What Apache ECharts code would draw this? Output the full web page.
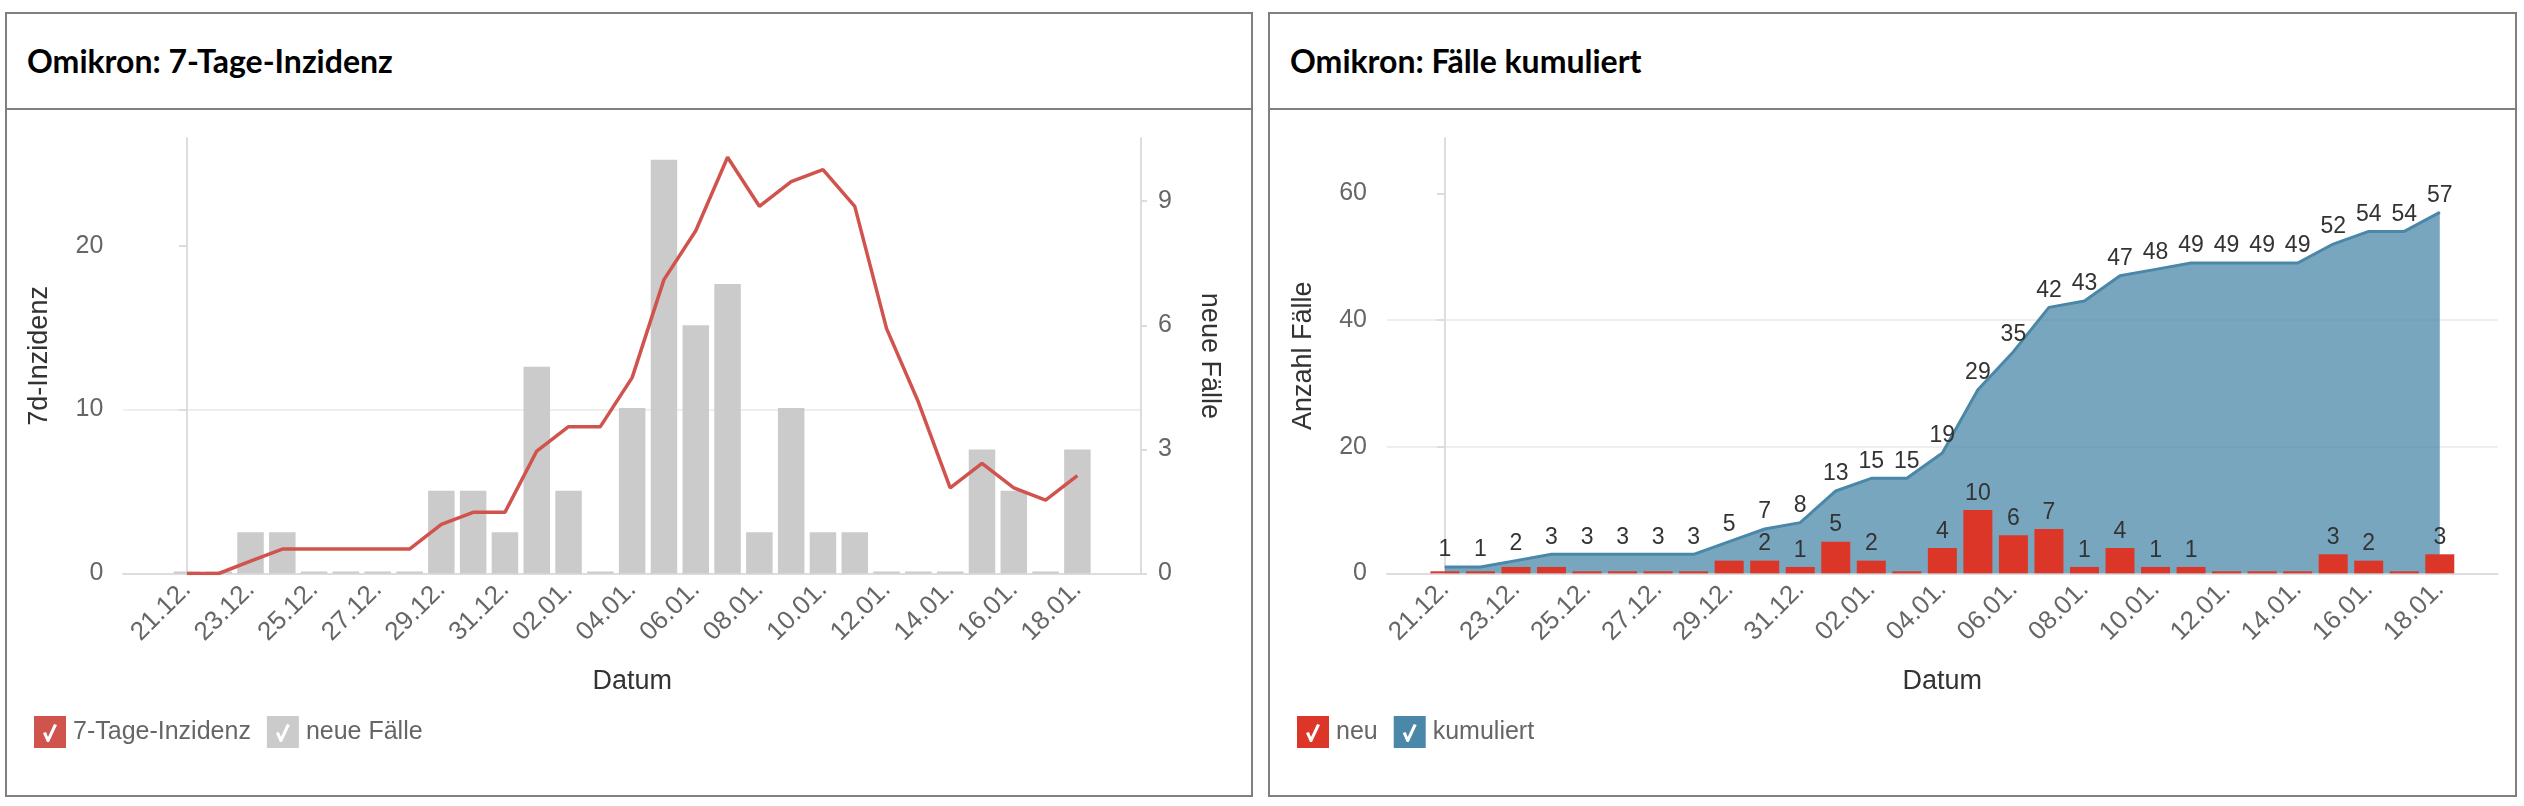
<!DOCTYPE html>
<html>
<head>
<meta charset="utf-8">
<title>Omikron</title>
<script src="https://cdn.jsdelivr.net/npm/echarts@6/dist/echarts.min.js"></script>
<style>
    html, body { margin: 0; padding: 0; background: #fff; }
    body { width: 2524px; height: 806px; position: relative; overflow: hidden; }
    .panel {
        position: absolute;
        top: 12px;
        height: 785px;
        box-sizing: border-box;
        border: 2px solid #808080;
    }
    .panel .head {
        height: 94px;
        line-height: 94px;
        padding-left: 20px;
        border-bottom: 2px solid #808080;
        font-family: Lato, sans-serif;
        font-weight: bold;
        font-size: 32px;
        color: #000;
    }
    .panel .chart { width: 100%; height: 685px; }
    #p1 { left: 5px; width: 1248px; }
    #p2 { left: 1268px; width: 1249px; }
</style>
</head>
<body>
<div class="panel" id="p1">
    <div class="head">Omikron: 7-Tage-Inzidenz</div>
    <div class="chart" id="chart_inzidenz"></div>
</div>
<div class="panel" id="p2">
    <div class="head">Omikron: Fälle kumuliert</div>
    <div class="chart" id="chart_kumuliert"></div>
</div>
<script>
// Tage 21.12. bis 18.01.
const dates = [
    '21.12.', '22.12.', '23.12.', '24.12.', '25.12.', '26.12.', '27.12.', '28.12.',
    '29.12.', '30.12.', '31.12.', '01.01.', '02.01.', '03.01.', '04.01.', '05.01.',
    '06.01.', '07.01.', '08.01.', '09.01.', '10.01.', '11.01.', '12.01.', '13.01.',
    '14.01.', '15.01.', '16.01.', '17.01.', '18.01.'
];
const neueFaelle = [0, 0, 1, 1, 0, 0, 0, 0, 2, 2, 1, 5, 2, 0, 4, 10, 6, 7, 1, 4, 1, 1, 0, 0, 0, 3, 2, 0, 3];
const inzidenz = [
    0, 0, 0.75, 1.49, 1.49, 1.49, 1.49, 1.49, 2.99, 3.73, 3.73, 7.47, 8.96, 8.96, 11.95,
    17.93, 20.91, 25.39, 22.4, 23.9, 24.64, 22.4, 14.94, 10.46, 5.23, 6.72, 5.23, 4.48, 5.97
];
const kumuliert = [1, 1, 2, 3, 3, 3, 3, 3, 5, 7, 8, 13, 15, 15, 19, 29, 35, 42, 43, 47, 48, 49, 49, 49, 49, 52, 54, 54, 57];
const labelDays = dates.map((d, i) => i).filter(i => i % 2 === 0);
const inzTicks = [0, 10, 20];
const faelleTicks = [0, 3, 6, 9];
const kumTicks = [0, 20, 40, 60];

const textFont = '"Liberation Sans", Arial, sans-serif';
const axisGrey = '#dddddd';
const gridGrey = '#eeeeee';

// kleines Kästchen mit Haken als Legenden-Symbol
const checkIcon = 'path://M0 0H32V32H0Z M9 17L13 26L15 26L23 9L20 8L14 21L12 16Z';

function dateAxis(min, max) {
    return {
        type: 'value',
        min: min,
        max: max,
        name: 'Datum',
        nameLocation: 'middle',
        nameGap: 95,
        nameTextStyle: { fontFamily: textFont, fontSize: 27, color: '#333' },
        axisLine: { show: true, lineStyle: { color: axisGrey, width: 2 } },
        axisTick: { show: false },
        splitLine: { show: false },
        axisLabel: {
            customValues: labelDays,
            formatter: v => dates[v] || '',
            rotate: 45,
            margin: 12,
            fontFamily: textFont,
            fontSize: 26,
            color: '#666'
        }
    };
}

function valueAxis(opt) {
    return Object.assign({
        type: 'value',
        min: 0,
        nameLocation: 'middle',
        nameTextStyle: { fontFamily: textFont, fontSize: 27, color: '#333' },
        axisLine: { show: true, lineStyle: { color: axisGrey, width: 2 } },
        axisTick: { show: true, length: 8, lineStyle: { color: axisGrey, width: 2 } },
        axisLabel: { margin: 20, fontFamily: textFont, fontSize: 25, color: '#666', showMaxLabel: false },
        splitLine: { show: true, showMaxLine: false, lineStyle: { color: gridGrey, width: 2 } }
    }, opt);
}

function legend(items) {
    return {
        left: 22,
        top: 601,
        itemWidth: 32,
        itemHeight: 32,
        itemGap: 16,
        selectedMode: false,
        textStyle: { fontFamily: textFont, fontSize: 25, color: '#666', padding: [0, 0, 0, 2] },
        data: items.map(it => ({
            name: it.name,
            icon: checkIcon,
            itemStyle: { color: it.color, borderWidth: 0 }
        }))
    };
}

(function inzidenzChart() {
    const chart = echarts.init(document.getElementById('chart_inzidenz'));
    chart.setOption({
        animation: false,
        grid: { left: 116.3, right: 110, top: 28.3, bottom: 221.5 },
        legend: legend([
            { name: '7-Tage-Inzidenz', color: '#d0534e' },
            { name: 'neue Fälle', color: '#cbcbcb' }
        ]),
        xAxis: dateAxis(-2, 30),
        yAxis: [
            valueAxis({
                max: 26.55,
                interval: 10,
                name: '7d-Inzidenz',
                nameGap: 70,
                axisTick: { show: true, length: 8, customValues: inzTicks, lineStyle: { color: axisGrey, width: 2 } },
                axisLabel: { customValues: inzTicks, margin: 20, fontFamily: textFont, fontSize: 25, color: '#666' }
            }),
            valueAxis({
                position: 'right',
                max: 10.52,
                interval: 3,
                name: 'neue Fälle',
                nameGap: 55,
                nameRotate: -90,
                splitLine: { show: false },
                axisTick: { show: true, length: 6, customValues: faelleTicks, lineStyle: { color: axisGrey, width: 2 } },
                axisLabel: { customValues: faelleTicks, margin: 17, fontFamily: textFont, fontSize: 25, color: '#666' }
            })
        ],
        series: [
            {
                name: 'neue Fälle',
                type: 'bar',
                yAxisIndex: 1,
                barWidth: 26.5,
                barMinHeight: 2,
                color: '#cbcbcb',
                z: 2,
                data: neueFaelle.map((v, i) => [i, v])
            },
            {
                name: '7-Tage-Inzidenz',
                type: 'line',
                yAxisIndex: 0,
                symbol: 'none',
                color: '#d0534e',
                lineStyle: { width: 3.5, color: '#d0534e' },
                z: 3,
                data: inzidenz.map((v, i) => [i, v])
            }
        ]
    });
})();

(function kumuliertChart() {
    const chart = echarts.init(document.getElementById('chart_kumuliert'));
    // Balkenbeschriftung weglassen, wenn sie mit der Beschriftung der Fläche kollidiert
    const minLabelGap = 4;
    chart.setOption({
        animation: false,
        grid: { left: 117, right: 17.3, top: 28.3, bottom: 221.7 },
        legend: legend([
            { name: 'neu', color: '#dc3628' },
            { name: 'kumuliert', color: '#4a87a8' }
        ]),
        xAxis: dateAxis(-1.63, 29.63),
        yAxis: valueAxis({
            max: 68.7,
            interval: 20,
            name: 'Anzahl Fälle',
            nameGap: 70,
            axisTick: { show: true, length: 8, customValues: kumTicks, lineStyle: { color: axisGrey, width: 2 } },
            axisLabel: { customValues: kumTicks, margin: 20, fontFamily: textFont, fontSize: 25, color: '#666' }
        }),
        series: [
            {
                name: 'kumuliert',
                type: 'line',
                symbol: 'circle',
                symbolSize: 1,
                showAllSymbol: true,
                color: '#4a87a8',
                lineStyle: { width: 3, color: '#4a87a8' },
                areaStyle: { color: '#4a87a8', opacity: 0.74 },
                label: {
                    show: true,
                    position: 'top',
                    distance: 5,
                    fontFamily: textFont,
                    fontSize: 23,
                    color: '#333'
                },
                z: 2,
                data: kumuliert.map((v, i) => [i, v])
            },
            {
                name: 'neu',
                type: 'bar',
                barWidth: 29,
                barMinHeight: 2,
                color: '#dc3628',
                label: {
                    position: 'top',
                    distance: 5,
                    fontFamily: textFont,
                    fontSize: 23,
                    color: '#333',
                    formatter: p => p.value[1]
                },
                z: 3,
                data: neueFaelle.map((v, i) => ({
                    value: [i, v],
                    label: { show: v > 0 && kumuliert[i] - v >= minLabelGap }
                }))
            }
        ]
    });
})();
</script>
</body>
</html>
